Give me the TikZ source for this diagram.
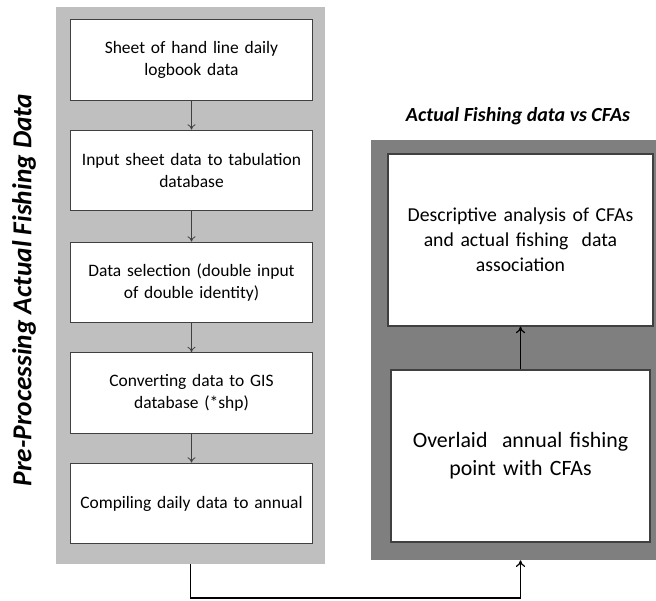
\documentclass[tikz,border=0pt]{standalone}
\usepackage{fontspec}
\setmainfont{Carlito}
\usetikzlibrary{arrows.meta}
\definecolor{panellight}{RGB}{191,191,191}
\definecolor{paneldark}{RGB}{127,127,127}
\definecolor{boxline}{RGB}{64,64,64}
\tikzset{
  stepbox/.style={draw=boxline, fill=white, line width=0.8pt, align=center,
    font=\fontsize{13.1}{16.5}\selectfont, minimum width=182pt, minimum height=60.5pt,
    text width=176pt, inner sep=0pt},
  bigbox/.style={draw=boxline, fill=white, line width=0.8pt, align=center,
    minimum height=129pt, inner sep=0pt},
  thin arrow/.style={-{To[length=4pt,width=6pt]}, draw=boxline, line width=0.6pt},
  thick arrow/.style={-{To[length=5pt,width=7pt]}, draw=black, line width=0.9pt}
}
\begin{document}
\begin{tikzpicture}[x=0.75pt,y=-0.75pt]
  \useasboundingbox (0,0) rectangle (656,600);
  % panels
  \node[fill=panellight, minimum width=201.75pt, minimum height=417.75pt, inner sep=0pt]
    (pre) at (190.5,285.5) {};
  \node[fill=paneldark, minimum width=213.75pt, minimum height=315pt, inner sep=0pt]
    (aft) at (513.5,350) {};
  % titles
  \node[rotate=90, font=\fontsize{20.5}{24}\selectfont\bfseries\itshape]
    (pretitle) at (24,290) {Pre-Processing Actual Fishing Data};
  \node[font=\fontsize{15}{18}\selectfont\bfseries\itshape]
    (afttitle) at (518,116) {Actual Fishing data vs CFAs};
  % left steps
  \draw
    (191.5,60) node[stepbox] (1){Sheet of hand line daily\\logbook data}
    (191.5,170.5) node[stepbox] (2){Input sheet data to tabulation\\database}
    (191.5,282.5) node[stepbox] (3){Data selection (double input\\of double identity)}
    (191.5,393) node[stepbox] (4){Converting data to GIS\\database (*shp)}
    (191.5,503.5) node[stepbox] (5){Compiling daily data to annual};
  \begin{scope}[thin arrow]
    \draw (1) to (2);
    \draw (2) to (3);
    \draw (3) to (4);
    \draw (4) to (5);
  \end{scope}
  % right steps
  \node[bigbox, minimum width=198.75pt, text width=190pt,
    font=\fontsize{14.8}{18.75}\selectfont] (desc) at (520.5,240)
    {Descriptive analysis of CFAs\\and actual fishing\ \ data\\association};
  \node[bigbox, minimum width=194.25pt, text width=188pt,
    font=\fontsize{16.4}{21}\selectfont] (over) at (520.5,456)
    {Overlaid\ \ annual fishing\\point with CFAs};
  \draw[thick arrow] (over) to (desc);
  % link between panels
  \coordinate (turn) at (190.5,598);
  \draw[thick arrow] (pre.south) -- (turn) -| (over.south |- aft.south);
\end{tikzpicture}
\end{document}
